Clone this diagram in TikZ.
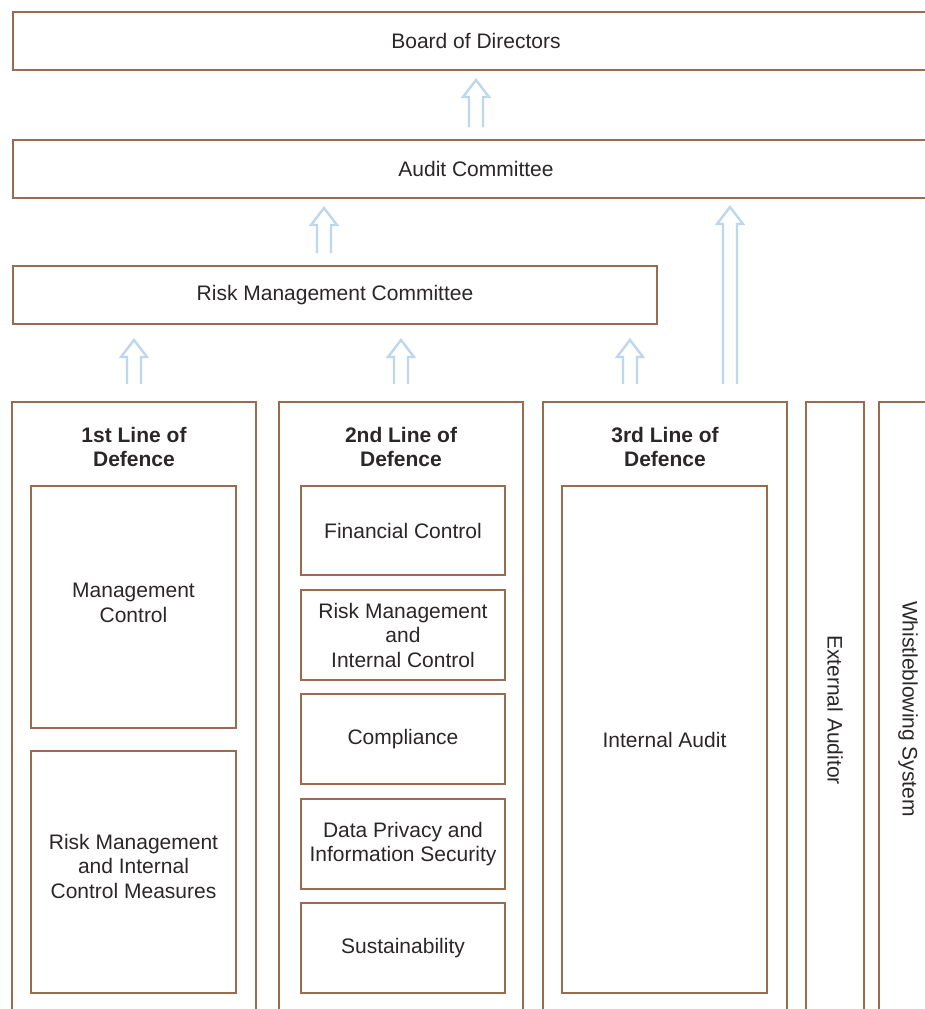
\documentclass[tikz,border=0pt]{standalone}
\usepackage{fontspec}
\setmainfont{Liberation Sans}
\definecolor{brn}{HTML}{9A6B4E}
\definecolor{arrc}{HTML}{BDD7EE}
\definecolor{txt}{HTML}{2B2728}
\newcommand\uparr[3]{\draw[uparrow] (#1-7,#2) -- (#1-7,#3+17) -- (#1-13,#3+17) -- (#1,#3) -- (#1+13,#3+17) -- (#1+7,#3+17) -- (#1+7,#2);}
\begin{document}
\begin{tikzpicture}[x=1pt,y=-1pt,
  box/.style={draw=brn, line width=2.6pt, fill=white, inner sep=0pt, align=center,
    font=\fontsize{21}{24.5}\selectfont, text=txt},
  lbl/.style={inner sep=0pt, align=center, font=\fontsize{21}{24.5}\selectfont, text=txt},
  head/.style={inner sep=0pt, align=center, font=\bfseries\fontsize{21}{24.5}\selectfont, text=txt},
  uparrow/.style={draw=arrc, line width=2.4pt, line join=miter}]
\useasboundingbox (0,0) rectangle (925,1009);
\clip (0,0) rectangle (925,1009);
% top boxes
\node[box, minimum width=926pt, minimum height=58pt] (board) at (476,41) {Board of Directors};
\node[box, minimum width=926pt, minimum height=58pt] (audit) at (476,169) {Audit Committee};
\node[box, minimum width=644pt, minimum height=58pt] (rmc) at (335,295) {Risk Management Committee};
% columns
\node[box, minimum width=244pt, minimum height=640pt] (c1) at (134,722) {};
\node[box, minimum width=244pt, minimum height=640pt] (c2) at (401,722) {};
\node[box, minimum width=244pt, minimum height=640pt] (c3) at (665,722) {};
\node[box, minimum width=58pt, minimum height=640pt] (ext) at (835,722) {};
\node[box, minimum width=58pt, minimum height=640pt] (wb) at (908,722) {};
\node[head] (h1) at (134,447) {1st Line of\\Defence};
\node[head] (h2) at (401,447) {2nd Line of\\Defence};
\node[head] (h3) at (665,447) {3rd Line of\\Defence};
\node[lbl, rotate=-90] (extt) at (835,710) {External Auditor};
\node[lbl, rotate=-90] (wbt) at (908,709) {Whistleblowing System};
% inner boxes
\node[box, minimum width=205pt, minimum height=242pt] (mc) at (133.5,607) {};
\node[lbl] (mct) at (133.5,603) {Management\\Control};
\node[box, minimum width=205pt, minimum height=242pt] (rmm) at (133.5,872) {};
\node[lbl] (rmmt) at (133.5,866) {Risk Management\\and Internal\\Control Measures};
\node[box, minimum width=204pt, minimum height=89pt] (fc) at (403,530.5) {Financial Control};
\node[box, minimum width=204pt, minimum height=90pt] (rmic) at (403,635) {Risk Management\\and\\Internal Control};
\node[box, minimum width=204pt, minimum height=90pt] (comp) at (403,739) {Compliance};
\node[box, minimum width=204pt, minimum height=90pt] (dp) at (403,844) {Data Privacy and\\Information Security};
\node[box, minimum width=204pt, minimum height=90pt] (sus) at (403,948) {Sustainability};
\node[box, minimum width=205pt, minimum height=507pt] (ia) at (664.5,739.5) {Internal Audit};
% arrows
\uparr{476}{127}{80}
\uparr{324}{253}{208}
\uparr{730}{384}{207}
\uparr{134}{384}{340}
\uparr{401}{384}{340}
\uparr{630}{384}{340}
\end{tikzpicture}
\end{document}
